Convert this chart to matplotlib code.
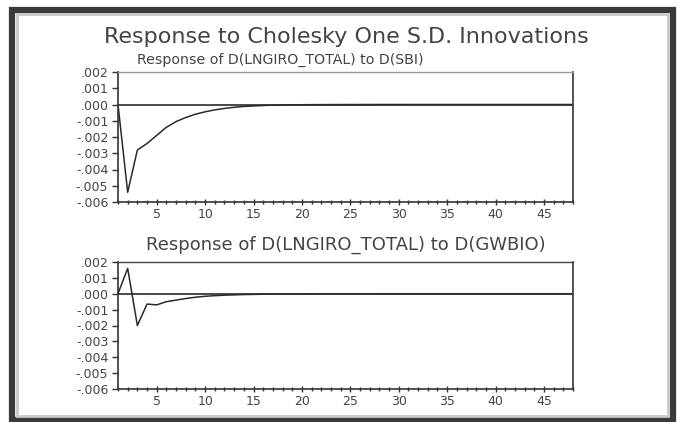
import matplotlib
matplotlib.use('Agg')
import matplotlib.pyplot as plt
from matplotlib.patches import Rectangle
from matplotlib.ticker import MultipleLocator, FuncFormatter

# данные: отклик по периодам 1..48
periods = list(range(1, 49))
resp_sbi = [0.0, -0.0054, -0.0028, -0.0024, -0.0019, -0.0014, -0.00105, -0.0008,
            -0.0006, -0.00045, -0.00033, -0.00024, -0.00017, -0.00012, -0.00009,
            -0.00006, -0.00004, -0.00003, -0.00002, -0.000015, -0.00001, -0.000008,
            -0.000006, -0.000004, -0.000003, -0.000002, -0.000002, -0.000001,
            -0.000001, -0.000001, 0.0, 0.0, 0.0, 0.0, 0.0, 0.0, 0.0, 0.0, 0.0, 0.0,
            0.0, 0.0, 0.0, 0.0, 0.0, 0.0, 0.0, 0.0]
resp_gwbio = [0.0, 0.0016, -0.0020, -0.00065, -0.0007, -0.0005, -0.0004, -0.0003,
              -0.00022, -0.00016, -0.00012, -0.00009, -0.00007, -0.00005, -0.00004,
              -0.00003, -0.00002, -0.000015, -0.00001, -0.000007, -0.000005,
              -0.000004, -0.000003, -0.000002, -0.000002, -0.000001, -0.000001,
              0.0, 0.0, 0.0, 0.0, 0.0, 0.0, 0.0, 0.0, 0.0, 0.0, 0.0, 0.0, 0.0,
              0.0, 0.0, 0.0, 0.0, 0.0, 0.0, 0.0, 0.0]

main_title = 'Response to Cholesky One S.D. Innovations'
sub_titles = ['Response of D(LNGIRO_TOTAL) to D(SBI)',
              'Response of D(LNGIRO_TOTAL) to D(GWBIO)']

TXT = '#444444'

fig = plt.figure(figsize=(6.77, 4.22), dpi=100)
fig.patch.set_facecolor('white')

W, H = 677.0, 422.0

# рамка окна (тёмная + светлая полоса внутри)
fig.add_artist(Rectangle((11.5 / W, 1 - 420 / H), (673 - 11.5) / W, (420 - 9.5) / H,
                         transform=fig.transFigure, fill=False,
                         edgecolor='#3a3a3a', lw=4.5))
fig.add_artist(Rectangle((17 / W, 1 - 415.5 / H), (667.5 - 17) / W, (415.5 - 14) / H,
                         transform=fig.transFigure, fill=False,
                         edgecolor='#c8c8c8', lw=2.0))

fig.text(346 / W, 1 - 37 / H, main_title, ha='center', va='center',
         fontsize=16, color=TXT)

ax_pos = [(118 / W, 1 - 202 / H, (573 - 118) / W, 130 / H),
          (118 / W, 1 - 389 / H, (573 - 118) / W, 127 / H)]
sub_pos = [(280 / W, 1 - 60 / H, 10.2), (346 / W, 1 - 245 / H, 13)]
series = [resp_sbi, resp_gwbio]


def fmt(v, pos):
    s = '%.3f' % v
    if s.startswith('-0'):
        s = '-' + s[2:]
    elif s.startswith('0'):
        s = s[1:]
    if s == '-.000':
        s = '.000'
    return s


for i in range(2):
    ax = fig.add_axes(ax_pos[i])
    ax.plot(periods, series[i], color='#2a2a2a', lw=1.1)
    ax.axhline(0, color='#2a2a2a', lw=1.2)
    ax.set_xlim(1, 48)
    ax.set_ylim(-0.006, 0.002)
    ax.yaxis.set_major_locator(MultipleLocator(0.001))
    ax.yaxis.set_major_formatter(FuncFormatter(fmt))
    ax.xaxis.set_major_locator(MultipleLocator(5))
    ax.xaxis.set_minor_locator(MultipleLocator(1))
    ax.tick_params(axis='y', direction='out', length=4, width=1, colors='#333333',
                   labelsize=9, labelcolor=TXT, pad=3)
    ax.tick_params(axis='x', which='major', direction='inout', length=5, width=1,
                   colors='#333333', labelsize=9, labelcolor=TXT, pad=2)
    ax.tick_params(axis='x', which='minor', direction='inout', length=3, width=1,
                   colors='#333333')
    for side in ['left', 'bottom', 'right']:
        ax.spines[side].set_color('#333333')
        ax.spines[side].set_linewidth(1.2)
    ax.spines['top'].set_color('#999999' if i == 0 else '#444444')
    ax.spines['top'].set_linewidth(1.0)
    x, y, fs = sub_pos[i]
    fig.text(x, y, sub_titles[i], ha='center', va='center', fontsize=fs,
             color=TXT)

fig.savefig('out.png', dpi=100)
